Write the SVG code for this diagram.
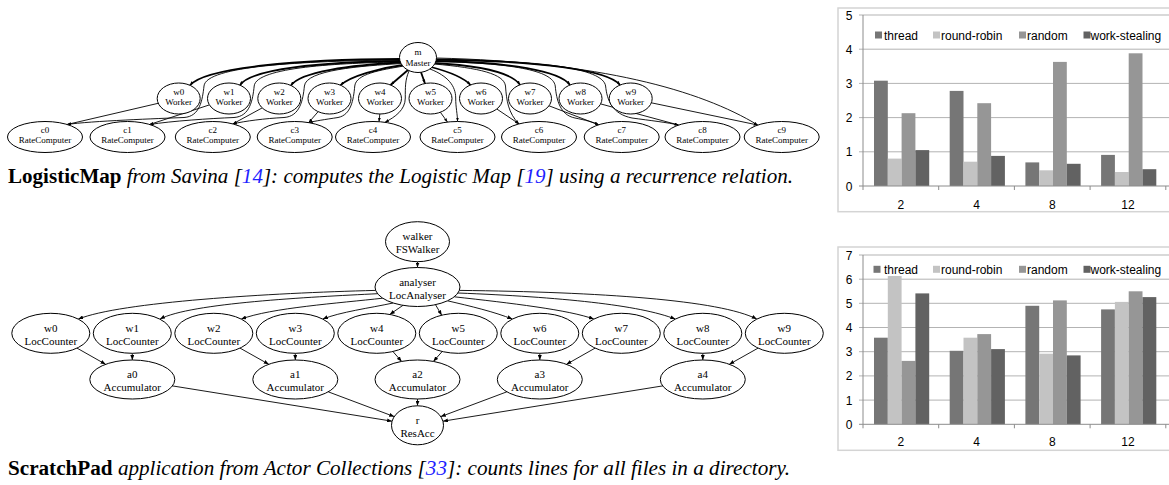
<svg xmlns="http://www.w3.org/2000/svg" width="1169" height="485" viewBox="0 0 1169 485">
<style>
.nd ellipse{fill:#fff;stroke:#000;stroke-width:1}
.g1 text{font-family:"Liberation Serif","Times New Roman",serif;font-size:9px;text-anchor:middle;fill:#000}
.g2 text{font-family:"Liberation Serif","Times New Roman",serif;font-size:11px;text-anchor:middle;fill:#000}
.ed path{fill:none;stroke:#000;stroke-width:0.9}
.g1 .ed path{marker-end:url(#as)}
.g2 .ed path{marker-end:url(#ab)}
.ed .thick{stroke-width:1.8}
.ch text{font-family:"Liberation Sans",Arial,sans-serif;font-size:12px;fill:#000}
.ch .ylab text,.ch .xlab text{text-anchor:middle}
.ch .ax{stroke:#8c8c8c;stroke-width:1;fill:none}
.ch .gr{stroke:#b3b3b3;stroke-width:1}
.ch .frame{fill:#fff;stroke:#d4d4d4;stroke-width:1.5}
.s1{fill:#767676}.s2{fill:#c3c3c3}.s3{fill:#969696}.s4{fill:#626262}
.cap{font-family:"Liberation Serif","Times New Roman",serif;font-size:20.5px;fill:#000}
.ref{fill:#1f1fff}
</style>
<defs>
<marker id="as" markerWidth="4" markerHeight="3" refX="4" refY="1.5" orient="auto" markerUnits="userSpaceOnUse"><path d="M0,0L4,1.5L0,3z" fill="#000"/></marker>
<marker id="ab" markerWidth="5" markerHeight="4" refX="5" refY="2" orient="auto" markerUnits="userSpaceOnUse"><path d="M0,0L5,2L0,4z" fill="#000"/></marker>
</defs>
<rect width="1169" height="485" fill="#fff"/>

<g id="logisticmap" class="g1">
<g id="lm-connectors" class="ed">
<path class="thick" d="M400,59 C300,59.5 205,67 190,85.3"/>
<path class="thick" d="M400.5,61 C320,62 250,69 240,85.2"/>
<path class="thick" d="M401.5,62.5 C350,65 300,72 291,85.5"/>
<path class="thick" d="M403,65 C380,68 350,76 340.5,85.2"/>
<path class="thick" d="M408,70 L390.5,85"/>
<path class="thick" d="M421,72.3 L425,83.5"/>
<path class="thick" d="M431,67 C450,72 465,79 470.5,85"/>
<path class="thick" d="M434,63 C485,66 512,73 520,84.8"/>
<path class="thick" d="M435,61 C510,62 560,71 570,85"/>
<path class="thick" d="M436,59.5 C540,61 608,70 620,85"/>
<path d="M400,60 C300,61 206,66 204,86 C202.4,100 200,116.5 184,117.5 C160,118.5 90,121 67,124.5"/>
<path d="M401,62 C340,63 256,67 254.2,86 C252.7,100 250,116.5 234,117.5 C210,118.5 172,121 149.5,124.5"/>
<path d="M402,63.5 C360,66 306,70 304.4,86 C303,100 300,116.5 284,117.5 C265,118.5 245,121 232.8,123.9"/>
<path d="M404,66 C380,70 356,74 354.75,86 C353.5,100 351,115 338,117.5 C325,119.5 315,121 308.7,122.6"/>
<path d="M409,71 C405,80 405.3,88 405.3,98 C405.3,110 395,117 385,122.3"/>
<path d="M430,69 C448,76 455.7,86 455.7,98 C455.7,108 457.5,114 457.5,121.5"/>
<path d="M434,64 C480,68 504,74 505.5,86 C506.5,100 508,113 519,123.9"/>
<path d="M435,61.5 C510,63 553,70 555.25,86 C556.5,100 560,115 575,118 C585,120 593,122 598.7,124.8"/>
<path d="M435.5,60 C540,60 603,68 605.6,86 C607,100 612,114 632,118 C650,120.5 668,122.5 678.5,125"/>
<path d="M436,58 C600,62 700,90 757.7,125"/>
<path d="M158.2,103.3 L67,124.5"/>
<path d="M209.4,104.9 L149.5,124.5"/>
<path d="M262.2,107.9 L232.8,123.9"/>
<path d="M318.1,111.7 L308.7,122.6"/>
<path d="M379.8,114 L379,121.7"/>
<path d="M440.4,112.3 L447.5,122.1"/>
<path d="M496.8,109 L519,123.9"/>
<path d="M549,105.8 L598.7,124.8"/>
<path d="M600.6,103.9 L678.5,125"/>
<path d="M651.3,102.8 L757.7,125"/>
</g>
<g id="lm-m" class="nd"><ellipse cx="418" cy="57.5" rx="18.5" ry="15"/><text x="418" y="55">m</text><text x="418" y="66">Master</text></g>
<g id="lm-w0" class="nd"><ellipse cx="178.7" cy="98.5" rx="21.5" ry="15.5"/><text x="178.7" y="94.5">w0</text><text x="178.7" y="105">Worker</text></g>
<g id="lm-w1" class="nd"><ellipse cx="229" cy="98.5" rx="21.5" ry="15.5"/><text x="229" y="94.5">w1</text><text x="229" y="105">Worker</text></g>
<g id="lm-w2" class="nd"><ellipse cx="279.3" cy="98.5" rx="21.5" ry="15.5"/><text x="279.3" y="94.5">w2</text><text x="279.3" y="105">Worker</text></g>
<g id="lm-w3" class="nd"><ellipse cx="329.5" cy="98.5" rx="21.5" ry="15.5"/><text x="329.5" y="94.5">w3</text><text x="329.5" y="105">Worker</text></g>
<g id="lm-w4" class="nd"><ellipse cx="380" cy="98.5" rx="21.5" ry="15.5"/><text x="380" y="94.5">w4</text><text x="380" y="105">Worker</text></g>
<g id="lm-w5" class="nd"><ellipse cx="430.5" cy="98.5" rx="21.5" ry="15.5"/><text x="430.5" y="94.5">w5</text><text x="430.5" y="105">Worker</text></g>
<g id="lm-w6" class="nd"><ellipse cx="481" cy="98.5" rx="21.5" ry="15.5"/><text x="481" y="94.5">w6</text><text x="481" y="105">Worker</text></g>
<g id="lm-w7" class="nd"><ellipse cx="530" cy="98.5" rx="21.5" ry="15.5"/><text x="530" y="94.5">w7</text><text x="530" y="105">Worker</text></g>
<g id="lm-w8" class="nd"><ellipse cx="580.5" cy="98.5" rx="21.5" ry="15.5"/><text x="580.5" y="94.5">w8</text><text x="580.5" y="105">Worker</text></g>
<g id="lm-w9" class="nd"><ellipse cx="630.7" cy="98.5" rx="21.5" ry="15.5"/><text x="630.7" y="94.5">w9</text><text x="630.7" y="105">Worker</text></g>
<g id="lm-c0" class="nd"><ellipse cx="45" cy="137" rx="37.5" ry="15.5"/><text x="45" y="132.5">c0</text><text x="45" y="143">RateComputer</text></g>
<g id="lm-c1" class="nd"><ellipse cx="127.5" cy="137" rx="37.5" ry="15.5"/><text x="127.5" y="132.5">c1</text><text x="127.5" y="143">RateComputer</text></g>
<g id="lm-c2" class="nd"><ellipse cx="212.8" cy="137" rx="37.5" ry="15.5"/><text x="212.8" y="132.5">c2</text><text x="212.8" y="143">RateComputer</text></g>
<g id="lm-c3" class="nd"><ellipse cx="294.7" cy="137" rx="37.5" ry="15.5"/><text x="294.7" y="132.5">c3</text><text x="294.7" y="143">RateComputer</text></g>
<g id="lm-c4" class="nd"><ellipse cx="373" cy="137" rx="37.5" ry="15.5"/><text x="373" y="132.5">c4</text><text x="373" y="143">RateComputer</text></g>
<g id="lm-c5" class="nd"><ellipse cx="457.5" cy="137" rx="37.5" ry="15.5"/><text x="457.5" y="132.5">c5</text><text x="457.5" y="143">RateComputer</text></g>
<g id="lm-c6" class="nd"><ellipse cx="539" cy="137" rx="37.5" ry="15.5"/><text x="539" y="132.5">c6</text><text x="539" y="143">RateComputer</text></g>
<g id="lm-c7" class="nd"><ellipse cx="621.7" cy="137" rx="37.5" ry="15.5"/><text x="621.7" y="132.5">c7</text><text x="621.7" y="143">RateComputer</text></g>
<g id="lm-c8" class="nd"><ellipse cx="702.5" cy="137" rx="37.5" ry="15.5"/><text x="702.5" y="132.5">c8</text><text x="702.5" y="143">RateComputer</text></g>
<g id="lm-c9" class="nd"><ellipse cx="781.7" cy="137" rx="37.5" ry="15.5"/><text x="781.7" y="132.5">c9</text><text x="781.7" y="143">RateComputer</text></g>
</g>

<g id="scratchpad" class="g2">
<g id="sp-connectors" class="ed">
<path d="M417.5,261.7 L417.5,267.5"/>
<path d="M375.6,290.4 C270,293 120,302 78.3,319.1"/>
<path d="M377.6,293.7 C310,297 190,303 160,319.1"/>
<path d="M382.7,298.2 C340,303 270,308 241.3,319.1"/>
<path d="M393.1,303 C370,308 340,312 322.8,319.1"/>
<path d="M403,305.3 L389.8,314.4"/>
<path d="M435.5,304.7 L441.7,315.2"/>
<path d="M447.5,300.8 C470,306 495,312 512.3,319.1"/>
<path d="M454.3,296.8 C510,303 570,310 593.8,319.1"/>
<path d="M457.9,293 C560,297 640,305 675.3,319.1"/>
<path d="M459.4,290.4 C600,292 720,300 756.8,319.1"/>
<path d="M77,348.1 L105.6,364.3"/>
<path d="M132.3,353.3 L132.3,360"/>
<path d="M240,348.1 L268.8,364.3"/>
<path d="M295.3,353.3 L295.3,360"/>
<path d="M392.9,351.5 L401.6,361.4"/>
<path d="M442.2,351.5 L433.4,361.4"/>
<path d="M539.8,353.3 L539.8,360"/>
<path d="M595.1,348.1 L566.5,364.3"/>
<path d="M702.8,353.3 L702.8,360"/>
<path d="M758.1,348.1 L729.3,364.3"/>
<path d="M172.4,385.9 L392.1,421.2"/>
<path d="M328.2,391.8 L394.2,416.6"/>
<path d="M417.5,399 L417.5,405.8"/>
<path d="M506.9,391.8 L440.8,416.6"/>
<path d="M662.7,385.9 L442.9,421.2"/>
</g>
<g id="sp-walker" class="nd"><ellipse cx="417.5" cy="241.7" rx="32" ry="20"/><text x="417.5" y="240">walker</text><text x="417.5" y="253">FSWalker</text></g>
<g id="sp-analyser" class="nd"><ellipse cx="417.5" cy="287" rx="42.5" ry="19.5"/><text x="417.5" y="286">analyser</text><text x="417.5" y="298.5">LocAnalyser</text></g>
<g id="sp-w0" class="nd"><ellipse cx="50.8" cy="333.3" rx="39" ry="20"/><text x="50.8" y="332">w0</text><text x="50.8" y="345">LocCounter</text></g>
<g id="sp-w1" class="nd"><ellipse cx="132.3" cy="333.3" rx="39" ry="20"/><text x="132.3" y="332">w1</text><text x="132.3" y="345">LocCounter</text></g>
<g id="sp-w2" class="nd"><ellipse cx="213.8" cy="333.3" rx="39" ry="20"/><text x="213.8" y="332">w2</text><text x="213.8" y="345">LocCounter</text></g>
<g id="sp-w3" class="nd"><ellipse cx="295.3" cy="333.3" rx="39" ry="20"/><text x="295.3" y="332">w3</text><text x="295.3" y="345">LocCounter</text></g>
<g id="sp-w4" class="nd"><ellipse cx="376.8" cy="333.3" rx="39" ry="20"/><text x="376.8" y="332">w4</text><text x="376.8" y="345">LocCounter</text></g>
<g id="sp-w5" class="nd"><ellipse cx="458.3" cy="333.3" rx="39" ry="20"/><text x="458.3" y="332">w5</text><text x="458.3" y="345">LocCounter</text></g>
<g id="sp-w6" class="nd"><ellipse cx="539.8" cy="333.3" rx="39" ry="20"/><text x="539.8" y="332">w6</text><text x="539.8" y="345">LocCounter</text></g>
<g id="sp-w7" class="nd"><ellipse cx="621.3" cy="333.3" rx="39" ry="20"/><text x="621.3" y="332">w7</text><text x="621.3" y="345">LocCounter</text></g>
<g id="sp-w8" class="nd"><ellipse cx="702.8" cy="333.3" rx="39" ry="20"/><text x="702.8" y="332">w8</text><text x="702.8" y="345">LocCounter</text></g>
<g id="sp-w9" class="nd"><ellipse cx="784.3" cy="333.3" rx="39" ry="20"/><text x="784.3" y="332">w9</text><text x="784.3" y="345">LocCounter</text></g>
<g id="sp-a0" class="nd"><ellipse cx="132.3" cy="379.5" rx="42.5" ry="19.5"/><text x="132.3" y="378">a0</text><text x="132.3" y="391">Accumulator</text></g>
<g id="sp-a1" class="nd"><ellipse cx="295.3" cy="379.5" rx="42.5" ry="19.5"/><text x="295.3" y="378">a1</text><text x="295.3" y="391">Accumulator</text></g>
<g id="sp-a2" class="nd"><ellipse cx="417.5" cy="379.5" rx="42.5" ry="19.5"/><text x="417.5" y="378">a2</text><text x="417.5" y="391">Accumulator</text></g>
<g id="sp-a3" class="nd"><ellipse cx="539.8" cy="379.5" rx="42.5" ry="19.5"/><text x="539.8" y="378">a3</text><text x="539.8" y="391">Accumulator</text></g>
<g id="sp-a4" class="nd"><ellipse cx="702.8" cy="379.5" rx="42.5" ry="19.5"/><text x="702.8" y="378">a4</text><text x="702.8" y="391">Accumulator</text></g>
<g id="sp-r" class="nd"><ellipse cx="417.5" cy="425.3" rx="26" ry="19.5"/><text x="417.5" y="424">r</text><text x="417.5" y="436.5">ResAcc</text></g>
</g>

<g id="chart-logisticmap" class="ch">
<rect class="frame" x="838" y="8" width="340" height="203.7"/>
<g class="grid">
<path class="gr" d="M859,15H1169M859,49.2H1169M859,83.4H1169M859,117.6H1169M859,151.8H1169"/>
</g>
<rect class="s1" x="874" y="80.7" width="13.8" height="105.3"/>
<rect class="s2" x="887.8" y="158.6" width="13.8" height="27.4"/>
<rect class="s3" x="901.6" y="113.2" width="13.8" height="72.8"/>
<rect class="s4" x="915.4" y="150.1" width="13.8" height="35.9"/>
<rect class="s1" x="949.7" y="90.9" width="13.8" height="95.1"/>
<rect class="s2" x="963.5" y="161.7" width="13.8" height="24.3"/>
<rect class="s3" x="977.3" y="103.2" width="13.8" height="82.8"/>
<rect class="s4" x="991.1" y="155.9" width="13.8" height="30.1"/>
<rect class="s1" x="1025.4" y="162.4" width="13.8" height="23.6"/>
<rect class="s2" x="1039.2" y="170.3" width="13.8" height="15.7"/>
<rect class="s3" x="1053" y="61.9" width="13.8" height="124.1"/>
<rect class="s4" x="1066.8" y="163.8" width="13.8" height="22.2"/>
<rect class="s1" x="1101.1" y="154.9" width="13.8" height="31.1"/>
<rect class="s2" x="1114.9" y="172" width="13.8" height="14"/>
<rect class="s3" x="1128.7" y="53.3" width="13.8" height="132.7"/>
<rect class="s4" x="1142.5" y="169.2" width="13.8" height="16.8"/>
<path class="ax" d="M863,15V186M859,186H1169M863,186V190M938.7,186V190M1014.4,186V190M1090.1,186V190M1165.8,186V190"/>
<g class="ylab">
<text x="849" y="190.5">0</text><text x="849" y="156.3">1</text><text x="849" y="122.1">2</text><text x="849" y="87.9">3</text><text x="849" y="53.7">4</text><text x="849" y="19.5">5</text>
</g>
<g class="xlab">
<text x="900.9" y="208.5">2</text><text x="976.6" y="208.5">4</text><text x="1052.3" y="208.5">8</text><text x="1128" y="208.5">12</text>
</g>
<g class="legend">
<rect class="s1" x="875" y="31.5" width="7" height="7"/><text x="884" y="39.5">thread</text>
<rect class="s2" x="933" y="31.5" width="7" height="7"/><text x="941" y="39.5">round-robin</text>
<rect class="s3" x="1019" y="31.5" width="7" height="7"/><text x="1027" y="39.5">random</text>
<rect class="s4" x="1083.5" y="31.5" width="7" height="7"/><text x="1090.5" y="39.5">work-stealing</text>
</g>
</g>

<g id="chart-scratchpad" class="ch">
<rect class="frame" x="838" y="247" width="340" height="203.3"/>
<g class="grid">
<path class="gr" d="M859,255H1169M859,279.2H1169M859,303.3H1169M859,327.5H1169M859,351.7H1169M859,375.9H1169M859,400.1H1169"/>
</g>
<rect class="s1" x="874" y="337.7" width="13.8" height="86.6"/>
<rect class="s2" x="887.8" y="276" width="13.8" height="148.3"/>
<rect class="s3" x="901.6" y="360.9" width="13.8" height="63.4"/>
<rect class="s4" x="915.4" y="293.4" width="13.8" height="130.9"/>
<rect class="s1" x="949.7" y="350.8" width="13.8" height="73.5"/>
<rect class="s2" x="963.5" y="337.7" width="13.8" height="86.6"/>
<rect class="s3" x="977.3" y="334.1" width="13.8" height="90.2"/>
<rect class="s4" x="991.1" y="349.1" width="13.8" height="75.2"/>
<rect class="s1" x="1025.4" y="305.8" width="13.8" height="118.5"/>
<rect class="s2" x="1039.2" y="353.7" width="13.8" height="70.6"/>
<rect class="s3" x="1053" y="300.4" width="13.8" height="123.9"/>
<rect class="s4" x="1066.8" y="355.4" width="13.8" height="68.9"/>
<rect class="s1" x="1101.1" y="309.4" width="13.8" height="114.9"/>
<rect class="s2" x="1114.9" y="301.9" width="13.8" height="122.4"/>
<rect class="s3" x="1128.7" y="291.3" width="13.8" height="133"/>
<rect class="s4" x="1142.5" y="297.1" width="13.8" height="127.2"/>
<path class="ax" d="M863,255V424.3M859,424.3H1169M863,424.3V428.3M938.7,424.3V428.3M1014.4,424.3V428.3M1090.1,424.3V428.3M1165.8,424.3V428.3"/>
<g class="ylab">
<text x="849" y="428.8">0</text><text x="849" y="404.6">1</text><text x="849" y="380.4">2</text><text x="849" y="356.2">3</text><text x="849" y="332">4</text><text x="849" y="307.8">5</text><text x="849" y="283.7">6</text><text x="849" y="259.5">7</text>
</g>
<g class="xlab">
<text x="900.9" y="446">2</text><text x="976.6" y="446">4</text><text x="1052.3" y="446">8</text><text x="1128" y="446">12</text>
</g>
<g class="legend">
<rect class="s1" x="873.5" y="265.8" width="7" height="7"/><text x="884" y="273.8">thread</text>
<rect class="s2" x="933" y="265.8" width="7" height="7"/><text x="941" y="273.8">round-robin</text>
<rect class="s3" x="1019" y="265.8" width="7" height="7"/><text x="1027" y="273.8">random</text>
<rect class="s4" x="1083.5" y="265.8" width="7" height="7"/><text x="1090.5" y="273.8">work-stealing</text>
</g>
</g>

<g id="captions">
<text class="cap" x="8" y="183" textLength="785" lengthAdjust="spacingAndGlyphs"><tspan font-weight="bold">LogisticMap</tspan><tspan font-style="italic"> from Savina [</tspan><tspan class="ref" font-style="italic">14</tspan><tspan font-style="italic">]: computes the Logistic Map [</tspan><tspan class="ref" font-style="italic">19</tspan><tspan font-style="italic">] using a recurrence relation.</tspan></text>
<text class="cap" x="8" y="475" textLength="782" lengthAdjust="spacingAndGlyphs"><tspan font-weight="bold">ScratchPad</tspan><tspan font-style="italic"> application from Actor Collections [</tspan><tspan class="ref" font-style="italic">33</tspan><tspan font-style="italic">]: counts lines for all files in a directory.</tspan></text>
</g>
</svg>
